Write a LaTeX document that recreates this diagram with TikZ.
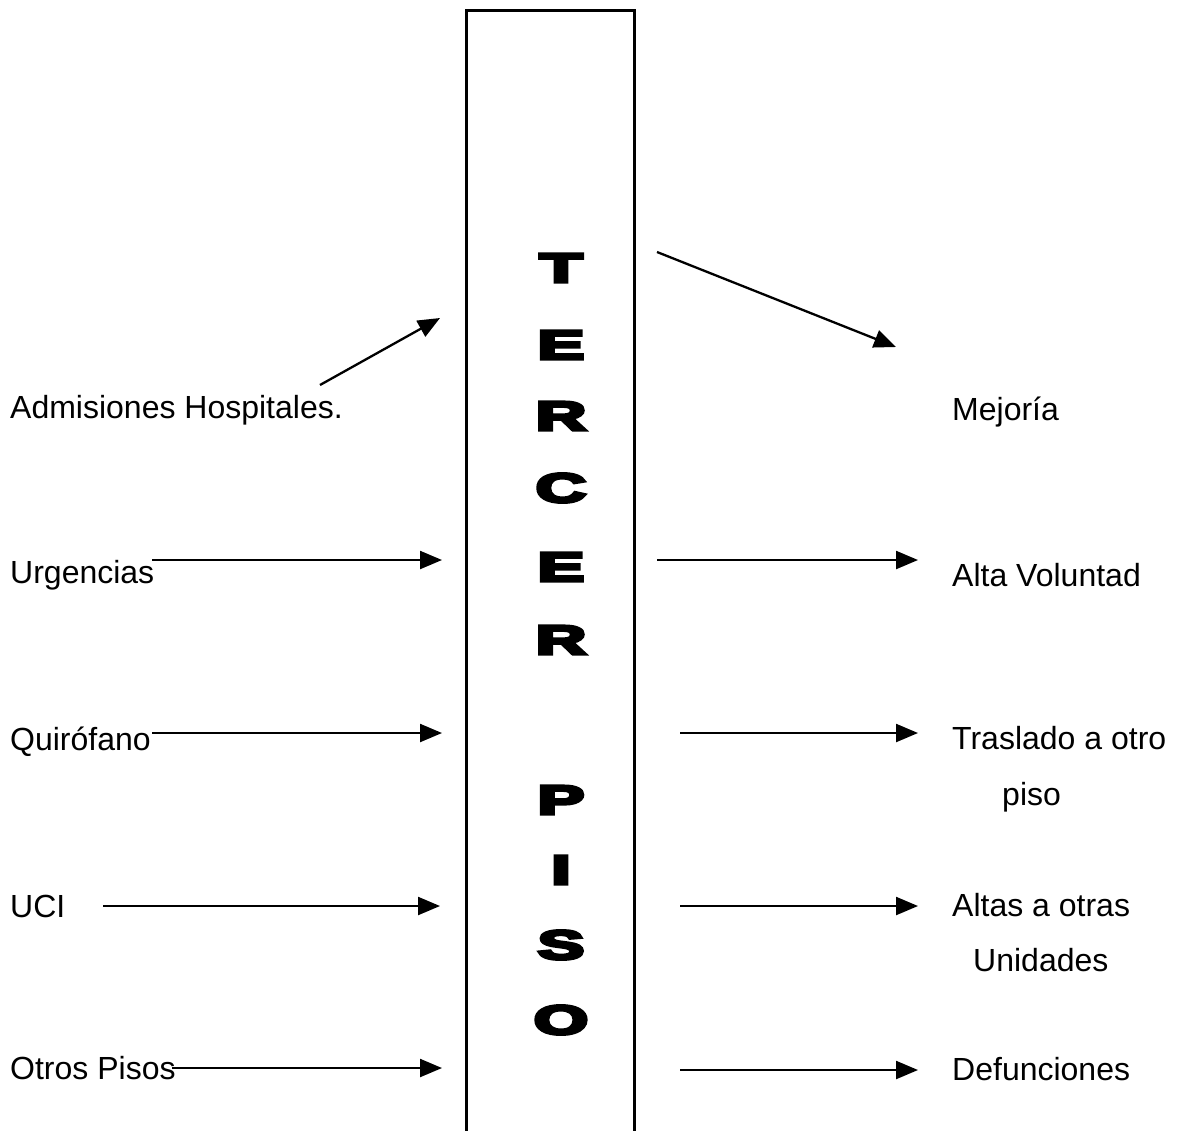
\documentclass[tikz,border=0pt]{standalone}
\usepackage{fontspec}
\setmainfont{Liberation Sans}
\newfontfamily\heavyfont[FakeBold=7]{Liberation Sans Bold}
\usetikzlibrary{arrows.meta}
\tikzset{
  lbl/.style={anchor=base west, inner sep=0pt, font=\fontsize{32}{38}\selectfont},
  big/.style={inner sep=0pt, xscale=1.7, font=\heavyfont\fontsize{41}{41}\selectfont},
  flow/.style={line width=2.3pt, -{Triangle[length=22pt,width=18pt]}},
  frame/.style={line width=3pt}
}
\begin{document}
\begin{tikzpicture}[x=1pt,y=-1pt]
\useasboundingbox (0,0) rectangle (1182,1130);
% column
\coordinate (bl) at (466,1140);
\coordinate (tl) at (466,10);
\coordinate (tr) at (634,10);
\coordinate (br) at (634,1140);
\draw[frame] (bl) -- (tl) -- (tr) -- (br);
% vertical title
\node[big] (l1) at (561,268) {T};
\node[big] (l2) at (561,345) {E};
\node[big] (l3) at (561,416) {R};
\node[big] (l4) at (561,488) {C};
\node[big] (l5) at (561,567) {E};
\node[big] (l6) at (561,640) {R};
\node[big] (l7) at (561,800) {P};
\node[big] (l8) at (561,870) {I};
\node[big] (l9) at (561,945) {S};
\node[big] (l10) at (561,1020) {O};
% left labels
\node[lbl] (adm) at (10,418) {Admisiones Hospitales.};
\node[lbl] (urg) at (10,583) {Urgencias};
\node[lbl] (qui) at (10,750) {Quirófano};
\node[lbl] (uci) at (10,917) {UCI};
\node[lbl] (otr) at (10,1079) {Otros Pisos};
% right labels
\node[lbl] (mej) at (952,420) {Mejoría};
\node[lbl] (alv) at (952,586) {Alta Voluntad};
\node[lbl] (tra) at (952,749) {Traslado a otro};
\node[lbl] (tra2) at (1002,805) {piso};
\node[lbl] (alt) at (952,916) {Altas a otras};
\node[lbl] (alt2) at (973,971) {Unidades};
\node[lbl] (def) at (952,1080) {Defunciones};
% arrow end points
\coordinate (a1s) at (320,385); \coordinate (a1e) at (440,318);
\coordinate (a2s) at (152,560); \coordinate (a2e) at (442,560);
\coordinate (a3s) at (152,733); \coordinate (a3e) at (442,733);
\coordinate (a4s) at (103,906); \coordinate (a4e) at (440,906);
\coordinate (a5s) at (172,1068); \coordinate (a5e) at (442,1068);
\coordinate (b1s) at (657,252); \coordinate (b1e) at (896,347);
\coordinate (b2s) at (657,560); \coordinate (b2e) at (918,560);
\coordinate (b3s) at (680,733); \coordinate (b3e) at (918,733);
\coordinate (b4s) at (680,906); \coordinate (b4e) at (918,906);
\coordinate (b5s) at (680,1070); \coordinate (b5e) at (918,1070);
\draw[flow] (a1s) -- (a1e);
\draw[flow] (a2s) -- (a2e);
\draw[flow] (a3s) -- (a3e);
\draw[flow] (a4s) -- (a4e);
\draw[flow] (a5s) -- (a5e);
\draw[flow] (b1s) -- (b1e);
\draw[flow] (b2s) -- (b2e);
\draw[flow] (b3s) -- (b3e);
\draw[flow] (b4s) -- (b4e);
\draw[flow] (b5s) -- (b5e);
\end{tikzpicture}
\end{document}
